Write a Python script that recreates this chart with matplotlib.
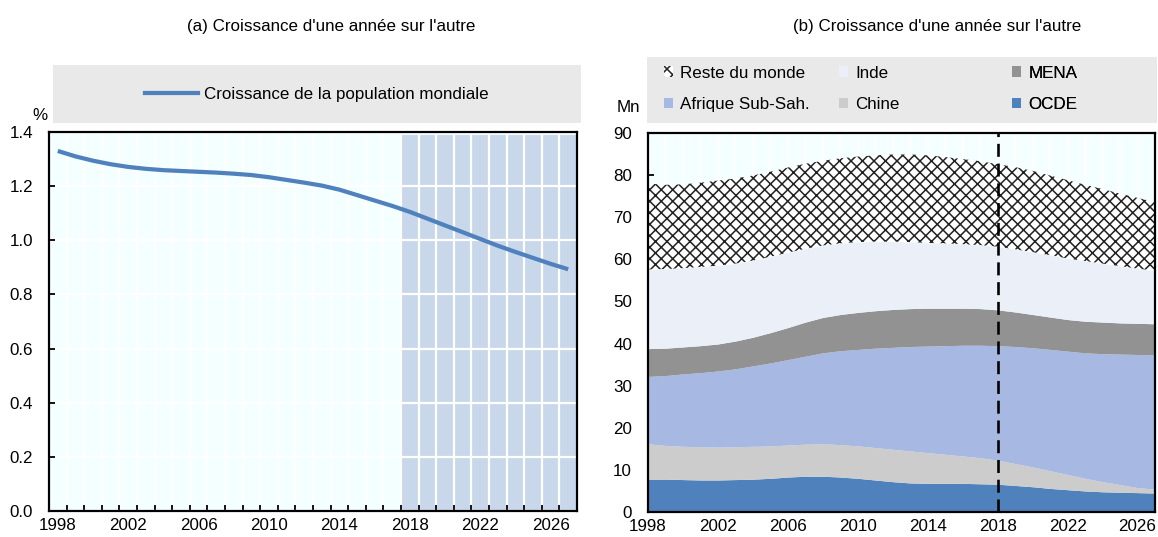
import numpy as np
import matplotlib
matplotlib.use("Agg")
import matplotlib.pyplot as plt
from matplotlib.patches import Patch
from matplotlib.lines import Line2D
from matplotlib.ticker import MultipleLocator, FixedLocator

DPI = 138
def px(v):
    # pixels -> points at this dpi
    return v * 72.0 / DPI

plt.rcParams['font.family'] = ['Liberation Sans', 'DejaVu Sans']
plt.rcParams['hatch.linewidth'] = 0.8
FS = 8.9

years = np.arange(1998, 2028)

# (a) croissance de la population mondiale, %
growth = [1.330, 1.310, 1.294, 1.281, 1.271, 1.264, 1.259, 1.256, 1.253, 1.250,
          1.246, 1.241, 1.233, 1.223, 1.213, 1.202, 1.187, 1.167, 1.147, 1.127,
          1.105, 1.080, 1.055, 1.030, 1.005, 0.980, 0.957, 0.935, 0.913, 0.893]
first_proj_year = 2018

# (b) croissance d'une annee sur l'autre par region, millions
ocde = [7.8, 7.8, 7.7, 7.6, 7.6, 7.7, 7.8, 8.0, 8.3, 8.5,
        8.5, 8.3, 8.0, 7.6, 7.2, 6.9, 6.8, 6.8, 6.8, 6.7,
        6.6, 6.3, 6.0, 5.6, 5.3, 5.0, 4.8, 4.7, 4.6, 4.5]
chine = [8.4, 8.0, 7.9, 7.9, 7.8, 7.8, 7.8, 7.7, 7.6, 7.6,
         7.7, 7.7, 7.7, 7.7, 7.7, 7.6, 7.3, 6.9, 6.5, 6.2,
         5.7, 5.2, 4.7, 4.2, 3.6, 3.0, 2.4, 1.8, 1.2, 0.9]
afrique = [16.0, 16.6, 17.2, 17.6, 18.1, 18.5, 19.1, 19.7, 20.3, 20.9,
           21.6, 22.3, 22.9, 23.6, 24.2, 24.8, 25.3, 25.8, 26.3, 26.7,
           27.2, 27.8, 28.3, 28.8, 29.3, 29.8, 30.4, 31.0, 31.6, 31.9]
mena = [6.6, 6.5, 6.4, 6.4, 6.4, 6.6, 6.8, 7.2, 7.6, 8.1,
        8.4, 8.6, 8.8, 8.9, 9.0, 9.0, 9.0, 8.9, 8.8, 8.7,
        8.5, 8.2, 7.9, 7.7, 7.5, 7.5, 7.5, 7.4, 7.4, 7.4]
inde = [18.8, 18.8, 18.7, 18.7, 18.6, 18.4, 18.2, 18.0, 17.8, 17.4,
        17.1, 16.9, 16.7, 16.4, 16.1, 15.8, 15.5, 15.4, 15.2, 15.1,
        15.0, 14.9, 14.8, 14.7, 14.5, 14.3, 13.9, 13.5, 13.0, 12.6]
reste = [20.4, 20.0, 19.9, 20.0, 20.2, 20.2, 20.2, 20.2, 20.2, 20.2,
         20.1, 20.2, 20.3, 20.5, 20.7, 20.8, 20.8, 20.5, 20.2, 19.9,
         19.6, 19.5, 19.3, 18.9, 18.6, 18.1, 17.7, 17.2, 16.8, 16.3]

region_names = ['OCDE', 'Chine', 'Afrique Sub-Sah.', 'MENA', 'Inde', 'Reste du monde']
region_colors = ['#4f81bd', '#cccccc', '#a7b9e2', '#929292', '#ebeff7', 'white']
region_hatch = [None, None, None, None, None, 'xxxx']

BG = '#f4ffff'
LEG_BG = '#e9e9e9'
LINE_BLUE = '#4f81bd'
SHADE = '#c9d7ea'

W, H = 1158, 537
fig = plt.figure(figsize=(W / DPI, H / DPI), dpi=DPI)

def box(x0, y0, x1, y1):
    # pixel box (top-left origin) -> figure fraction rect
    return [x0 / W, 1 - y1 / H, (x1 - x0) / W, (y1 - y0) / H]

def style_axes(ax):
    ax.set_facecolor(BG)
    for s in ax.spines.values():
        s.set_linewidth(px(2.2))
        s.set_color('black')
    ax.tick_params(which='both', direction='in', length=px(6), width=px(1.8),
                   labelsize=FS, top=False, right=False)
    ax.tick_params(axis='y', pad=px(16))
    ax.tick_params(axis='x', pad=px(7))

# ---------- panel (a)
ax1 = fig.add_axes(box(49, 132, 577, 511))
style_axes(ax1)
pos = np.arange(len(years))
proj = years >= first_proj_year
ax1.bar(pos[proj], 1.39, width=1.0, color=SHADE, zorder=1)
ax1.plot(pos, growth, color=LINE_BLUE, lw=px(4.2), zorder=3,
         solid_capstyle='butt')
ax1.set_xlim(-0.5, len(years) - 0.5)
ax1.set_ylim(0, 1.4)
ax1.yaxis.set_major_locator(MultipleLocator(0.2))
ax1.yaxis.set_major_formatter(plt.FuncFormatter(lambda v, _: f'{v:.1f}'))
lab_idx = pos[::4]
ax1.set_xticks(lab_idx)
ax1.set_xticklabels([str(y) for y in years[::4]])
ax1.tick_params(axis='x', which='major', length=0)
ax1.xaxis.set_minor_locator(FixedLocator(pos[:-1] + 0.5))
ax1.set_axisbelow('line')
ax1.grid(which='minor', axis='x', color='white', lw=px(2.2))
ax1.grid(which='major', axis='y', color='white', lw=px(2.2))
fig.text(40 / W, 1 - 116 / H, '%', fontsize=FS, ha='center', va='center')

leg1 = fig.add_axes(box(53, 65, 581, 123))
leg1.set_facecolor(LEG_BG)
leg1.set_xticks([]); leg1.set_yticks([])
for s in leg1.spines.values():
    s.set_visible(False)
leg1.legend([Line2D([], [], color=LINE_BLUE, lw=px(4.2))],
            ['Croissance de la population mondiale'],
            loc='center', frameon=False, fontsize=FS,
            handlelength=3.1, handletextpad=0.35)

fig.text(331 / W, 1 - 27 / H, "(a) Croissance d'une année sur l'autre",
         fontsize=FS, ha='center', va='center')

# ---------- panel (b)
ax2 = fig.add_axes(box(648, 133, 1155, 512))
style_axes(ax2)
ax2.stackplot(years, ocde, chine, afrique, mena, inde, reste,
              colors=region_colors, hatch=region_hatch,
              edgecolor='#222222', linewidth=0, zorder=2)
ax2.axvline(first_proj_year, color='black', lw=px(2.6),
            linestyle=(0, (5, 2.6)), zorder=4)
ax2.set_xlim(years[0], years[-1])
ax2.set_ylim(0, 90)
ax2.yaxis.set_major_locator(MultipleLocator(10))
ax2.xaxis.set_major_locator(MultipleLocator(4, offset=2))
ax2.xaxis.set_minor_locator(MultipleLocator(1))
ax2.set_axisbelow(True)
ax2.grid(which='both', axis='x', color='white', lw=px(2.2))
fig.text(628 / W, 1 - 108 / H, 'Mn', fontsize=FS, ha='center', va='center')

leg2 = fig.add_axes(box(647, 57, 1157, 123))
leg2.set_facecolor(LEG_BG)
leg2.set_xticks([]); leg2.set_yticks([])
for s in leg2.spines.values():
    s.set_visible(False)

handles = {n: Patch(facecolor=c, edgecolor='#222222' if h else c, hatch=h, lw=0)
           for n, c, h in zip(region_names, region_colors, region_hatch)}
columns = [(['Reste du monde', 'Afrique Sub-Sah.'], 664),
           (['Inde', 'Chine'], 839),
           (['MENA', 'OCDE'], 1012)]
for names, xpix in columns:
    lg = leg2.legend([handles[n] for n in names], names,
                     loc='center left', bbox_to_anchor=((xpix - 647) / 510, 0.52),
                     frameon=False, fontsize=FS, borderpad=0, borderaxespad=0,
                     handlelength=0.55, handleheight=0.55, handletextpad=0.4,
                     labelspacing=0.95)
    leg2.add_artist(lg)

fig.text(937 / W, 1 - 27 / H, "(b) Croissance d'une année sur l'autre",
         fontsize=FS, ha='center', va='center')

fig.savefig('out.png', dpi=DPI)
